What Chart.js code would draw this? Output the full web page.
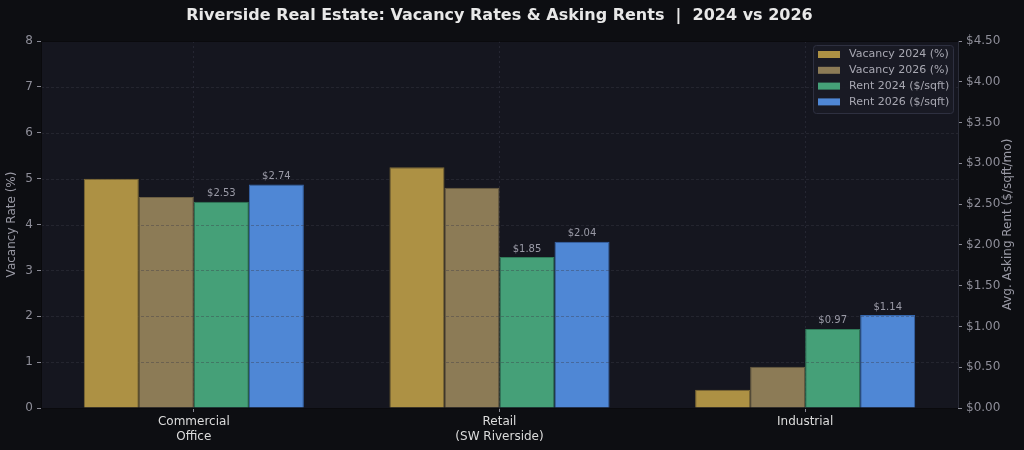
<!DOCTYPE html>
<html>
<head>
<meta charset="utf-8">
<script src="https://cdn.jsdelivr.net/npm/chart.js@4.4.1/dist/chart.umd.min.js"></script>
<style>
  html, body { margin: 0; padding: 0; background: #0d0e12; }
  #wrap { width: 1024px; height: 450px; }
</style>
</head>
<body>
<div id="wrap"><canvas id="rentas"></canvas></div>
<script>
const categorias = [['Commercial', 'Office'], ['Retail', '(SW Riverside)'], 'Industrial'];
const vacancia_2024 = [5.0, 5.25, 0.4];
const vacancia_2026 = [4.6, 4.8, 0.9];
const renta_2024 = [2.53, 1.85, 0.97];
const renta_2026 = [2.74, 2.04, 1.14];
const nombres = ['Vacancy 2024 (%)', 'Vacancy 2026 (%)', 'Rent 2024 ($/sqft)', 'Rent 2026 ($/sqft)'];
const titulo = 'Riverside Real Estate: Vacancy Rates & Asking Rents  |  2024 vs 2026';
const titulo_der = 'Avg. Asking Rent ($/sqft/mo)';

const fuente = '"DejaVu Sans", sans-serif';
const colores = ['#ad9144', '#8c7b56', '#45a078', '#4f87d5'];
const bordes = ['#7f6b35', '#6b5e42', '#2f7a58', '#3566ad'];

// fondo del area del grafico + titulo + bordes
const fondo = {
    id: 'fondo',
    beforeDraw(chart) {
        const { ctx, chartArea: a } = chart;
        ctx.save();
        ctx.fillStyle = '#15161f';
        ctx.fillRect(a.left, a.top, a.right - a.left, a.bottom - a.top);
        ctx.fillStyle = '#e8e8e8';
        ctx.font = 'bold 16px ' + fuente;
        ctx.textAlign = 'center';
        ctx.textBaseline = 'middle';
        ctx.fillText(titulo, (a.left + a.right) / 2, 16);
        ctx.restore();
    },
    afterDatasetDraw(chart, args) {
        // grilla punteada del eje izquierdo encima de las barras de vacancia
        if (args.index !== 1) return;
        const { ctx, chartArea: a, scales } = chart;
        ctx.save();
        ctx.strokeStyle = 'rgba(60,60,72,0.4)';
        ctx.lineWidth = 1;
        ctx.setLineDash([3, 2]);
        scales.y.ticks.forEach(t => {
            if (t.value <= 0 || t.value >= 8) return;
            const y = Math.round(scales.y.getPixelForValue(t.value)) + 0.5;
            ctx.beginPath();
            ctx.moveTo(a.left, y);
            ctx.lineTo(a.right, y);
            ctx.stroke();
        });
        ctx.restore();
    },
    afterDraw(chart) {
        const { ctx, chartArea: a } = chart;
        ctx.save();
        ctx.lineWidth = 1;
        ctx.strokeStyle = '#0a0a0d';
        ctx.beginPath();
        ctx.moveTo(a.left + 0.5, a.bottom);
        ctx.lineTo(a.left + 0.5, a.top + 0.5);
        ctx.lineTo(a.right, a.top + 0.5);
        ctx.moveTo(a.left, a.bottom + 0.5);
        ctx.lineTo(a.right, a.bottom + 0.5);
        ctx.stroke();
        ctx.strokeStyle = '#2a2c38';
        ctx.beginPath();
        ctx.moveTo(a.right + 0.5, a.top);
        ctx.lineTo(a.right + 0.5, a.bottom);
        ctx.stroke();

        // titulo del eje derecho (de abajo hacia arriba)
        ctx.save();
        ctx.translate(1008, (a.top + a.bottom) / 2);
        ctx.rotate(-Math.PI / 2);
        ctx.fillStyle = '#9a9aa5';
        ctx.font = '12px ' + fuente;
        ctx.textAlign = 'center';
        ctx.textBaseline = 'middle';
        ctx.fillText(titulo_der, 0, 0);
        ctx.restore();

        // etiquetas de renta
        ctx.fillStyle = '#9a9aa6';
        ctx.font = '10px ' + fuente;
        ctx.textAlign = 'center';
        ctx.textBaseline = 'bottom';
        [2, 3].forEach(i => {
            const meta = chart.getDatasetMeta(i);
            meta.data.forEach((barra, j) => {
                const v = chart.data.datasets[i].data[j];
                ctx.fillText('$' + v.toFixed(2), barra.x, barra.y - 3);
            });
        });

        // leyenda
        const lx = 813, ly = 45, lw = 140, lh = 68;
        ctx.fillStyle = 'rgba(26,27,37,0.9)';
        ctx.strokeStyle = '#2e3040';
        ctx.beginPath();
        ctx.roundRect(lx + 0.5, ly + 0.5, lw, lh, 3);
        ctx.fill();
        ctx.stroke();
        ctx.font = '11px ' + fuente;
        ctx.textAlign = 'left';
        ctx.textBaseline = 'middle';
        nombres.forEach((n, i) => {
            const y = ly + 9.5 + i * 15.8;
            ctx.fillStyle = colores[i];
            ctx.fillRect(lx + 5, y - 3.5, 22, 7);
            ctx.fillStyle = '#a8a8b2';
            ctx.fillText(n, lx + 36, y);
        });
        ctx.restore();
    }
};

const ctx = document.getElementById('rentas').getContext('2d');
const graf_rentas = new Chart(ctx, {
    type: 'bar',
    data: {
        labels: categorias,
        datasets: [
            { label: nombres[0], data: vacancia_2024, yAxisID: 'y', backgroundColor: colores[0], borderColor: bordes[0], borderWidth: 1 },
            { label: nombres[1], data: vacancia_2026, yAxisID: 'y', backgroundColor: colores[1], borderColor: bordes[1], borderWidth: 1 },
            { label: nombres[2], data: renta_2024, yAxisID: 'y2', backgroundColor: colores[2], borderColor: bordes[2], borderWidth: 1 },
            { label: nombres[3], data: renta_2026, yAxisID: 'y2', backgroundColor: colores[3], borderColor: bordes[3], borderWidth: 1 }
        ]
    },
    options: {
        responsive: true,
        maintainAspectRatio: false,
        animation: false,
        devicePixelRatio: 1,
        layout: { padding: { top: 41, left: 0, right: 0, bottom: 0 } },
        datasets: { bar: { categoryPercentage: 0.72, barPercentage: 1.0 } },
        plugins: {
            legend: { display: false },
            title: { display: false },
            tooltip: { enabled: false }
        },
        scales: {
            x: {
                offset: true,
                afterFit(s) { s.height = 42; },
                grid: {
                    offset: false,
                    color: 'rgba(70,70,85,0.35)',
                    tickColor: '#8a8a95',
                    tickLength: 4,
                    drawOnChartArea: true
                },
                border: { display: false, dash: [2, 3] },
                ticks: { color: '#dcdcdc', font: { family: fuente, size: 12 }, padding: 3 }
            },
            y: {
                position: 'left',
                min: 0, max: 8,
                afterFit(s) { s.width = 41; },
                ticks: { stepSize: 1, color: '#8e8e99', font: { family: fuente, size: 12 }, padding: 4 },
                grid: { drawOnChartArea: false, tickColor: '#8a8a95', tickLength: 4 },
                border: { display: false },
                title: { display: true, text: 'Vacancy Rate (%)', color: '#9a9aa5', font: { family: fuente, size: 12 }, padding: { top: 5, bottom: 0 } }
            },
            y2: {
                position: 'right',
                min: 0, max: 4.5,
                afterFit(s) { s.width = 66; },
                ticks: {
                    stepSize: 0.5,
                    color: '#8e8e99',
                    font: { family: fuente, size: 12 },
                    padding: 4,
                    callback: v => '$' + Number(v).toFixed(2)
                },
                grid: { drawOnChartArea: false, tickColor: '#8a8a95', tickLength: 4 },
                border: { display: false }
            }
        }
    },
    plugins: [fondo]
});
</script>
</body>
</html>
